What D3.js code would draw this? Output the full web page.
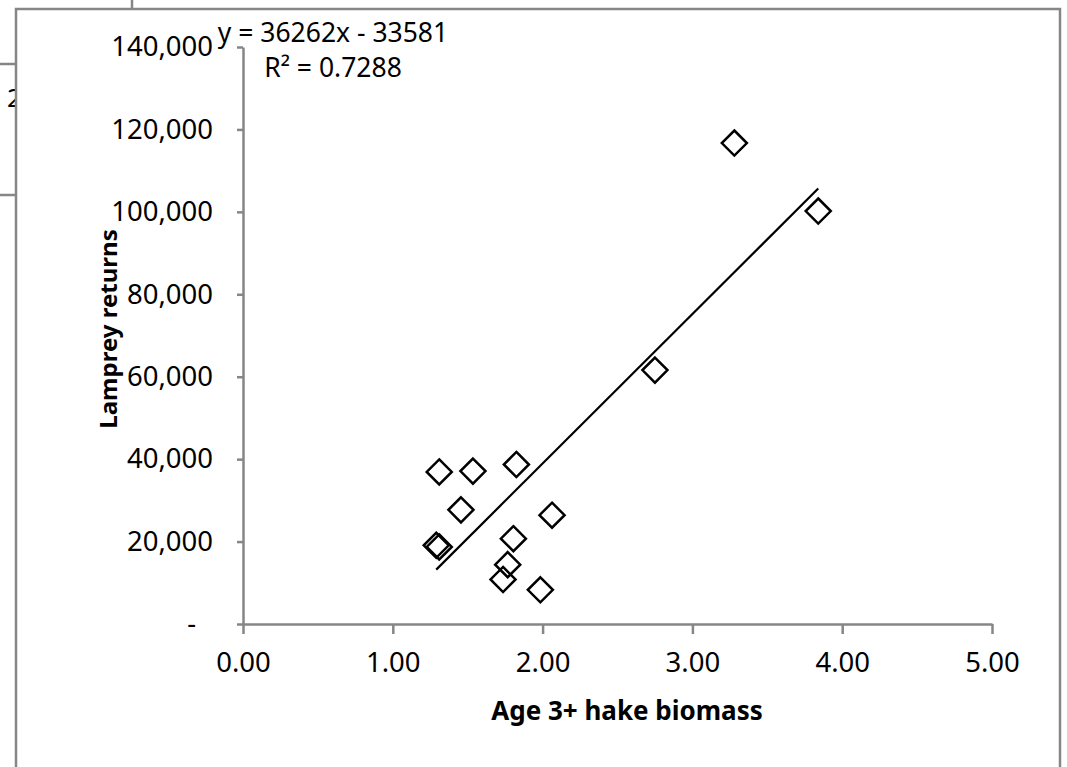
<!DOCTYPE html>
<html>
<head>
<meta charset="utf-8">
<script src="https://cdn.jsdelivr.net/npm/d3@7"></script>
<style>
  body { margin: 0; background: #fff; }
  svg { display: block; font-family: "Noto Sans", "Liberation Sans", sans-serif; }
  .axis path, .axis line { stroke: #868686; stroke-width: 2.5; }
  .axis text { font-family: "Noto Sans", sans-serif; font-size: 27.5px; fill: #000; }
</style>
</head>
<body>
<svg width="1067" height="767"></svg>
<script>
// DATA

let hakeBiomass = [3.28, 3.84, 2.75, 1.31, 1.535, 1.825, 1.455, 2.063, 1.29, 1.31, 1.805, 1.767, 1.736, 1.985];
let lampreyReturns = [116700, 100200, 61600, 36900, 37100, 38700, 27700, 26400, 19100, 18700, 20700, 14400, 10800, 8300];

let xTicks = [0, 1, 2, 3, 4, 5];
let yTicks = [0, 20000, 40000, 60000, 80000, 100000, 120000, 140000];

let trendSlope = 36262;
let trendIntercept = -33581;
let trendLabels = ["y = 36262x - 33581", "R\u00b2 = 0.7288"];

// PAGE SETUP

let svg = d3.select("svg");

let plot = {left: 243, right: 992, top: 47, bottom: 624};

// pieces of the chart sitting behind this one
svg.append("line").attr("x1", 0).attr("x2", 16).attr("y1", 64).attr("y2", 64)
  .attr("stroke", "#868686").attr("stroke-width", 2.5);
svg.append("line").attr("x1", 0).attr("x2", 16).attr("y1", 195).attr("y2", 195)
  .attr("stroke", "#868686").attr("stroke-width", 2.5);
svg.append("line").attr("x1", 132).attr("x2", 132).attr("y1", 0).attr("y2", 9)
  .attr("stroke", "#868686").attr("stroke-width", 2.5);
svg.append("text").attr("x", 7).attr("y", 107).attr("font-size", 26).text("2");

// chart frame
svg.append("rect")
  .attr("x", 16).attr("y", 9)
  .attr("width", 1044).attr("height", 800)
  .attr("fill", "#fff")
  .attr("stroke", "#868686")
  .attr("stroke-width", 2.5);

// SCALES

let x = d3.scaleLinear().domain([0, 5]).range([plot.left, plot.right]);
let y = d3.scaleLinear().domain([0, 140000]).range([plot.bottom, plot.top]);

// AXES

let yAxis = svg.append("g")
  .attr("class", "axis")
  .attr("transform", `translate(${plot.left},0)`)
  .call(d3.axisLeft(y)
    .tickValues(yTicks)
    .tickSize(6)
    .tickSizeOuter(0)
    .tickPadding(24)
    .tickFormat(d => d == 0 ? "-" : d3.format(",")(d)));

// accounting style dash sits further left
yAxis.selectAll(".tick text").filter(d => d == 0).attr("dx", -17);

let xAxis = svg.append("g")
  .attr("class", "axis")
  .attr("transform", `translate(0,${plot.bottom})`)
  .call(d3.axisBottom(x)
    .tickValues(xTicks)
    .tickSize(10)
    .tickSizeOuter(0)
    .tickPadding(18)
    .tickFormat(d3.format(".2f")));

// axis titles
svg.append("text")
  .attr("x", 627).attr("y", 720)
  .attr("text-anchor", "middle")
  .attr("font-size", 26).attr("font-weight", "bold")
  .text("Age 3+ hake biomass");

svg.append("text")
  .attr("transform", "translate(117,329) rotate(-90)")
  .attr("text-anchor", "middle")
  .attr("font-size", 24).attr("font-weight", "bold")
  .text("Lamprey returns");

// TRENDLINE

let xMin = d3.min(hakeBiomass), xMax = d3.max(hakeBiomass);
svg.append("line")
  .attr("x1", x(xMin)).attr("y1", y(trendSlope * xMin + trendIntercept))
  .attr("x2", x(xMax)).attr("y2", y(trendSlope * xMax + trendIntercept))
  .attr("stroke", "#000")
  .attr("stroke-width", 2.2);

// POINTS

let diamond = d3.symbol().type(d3.symbolDiamond2).size(400);

svg.selectAll(".point")
  .data(hakeBiomass)
  .enter()
  .append("path")
  .attr("class", "point")
  .attr("d", diamond)
  .attr("transform", (d, i) => `translate(${x(d)},${y(lampreyReturns[i])})`)
  .attr("fill", "none")
  .attr("stroke", "#000")
  .attr("stroke-width", 2.5);

// EQUATION LABEL

svg.selectAll(".trend-label")
  .data(trendLabels)
  .enter()
  .append("text")
  .attr("class", "trend-label")
  .attr("x", 333)
  .attr("y", (d, i) => 42 + i * 35)
  .attr("text-anchor", "middle")
  .attr("font-size", 26.5)
  .text(d => d);
</script>
</body>
</html>
